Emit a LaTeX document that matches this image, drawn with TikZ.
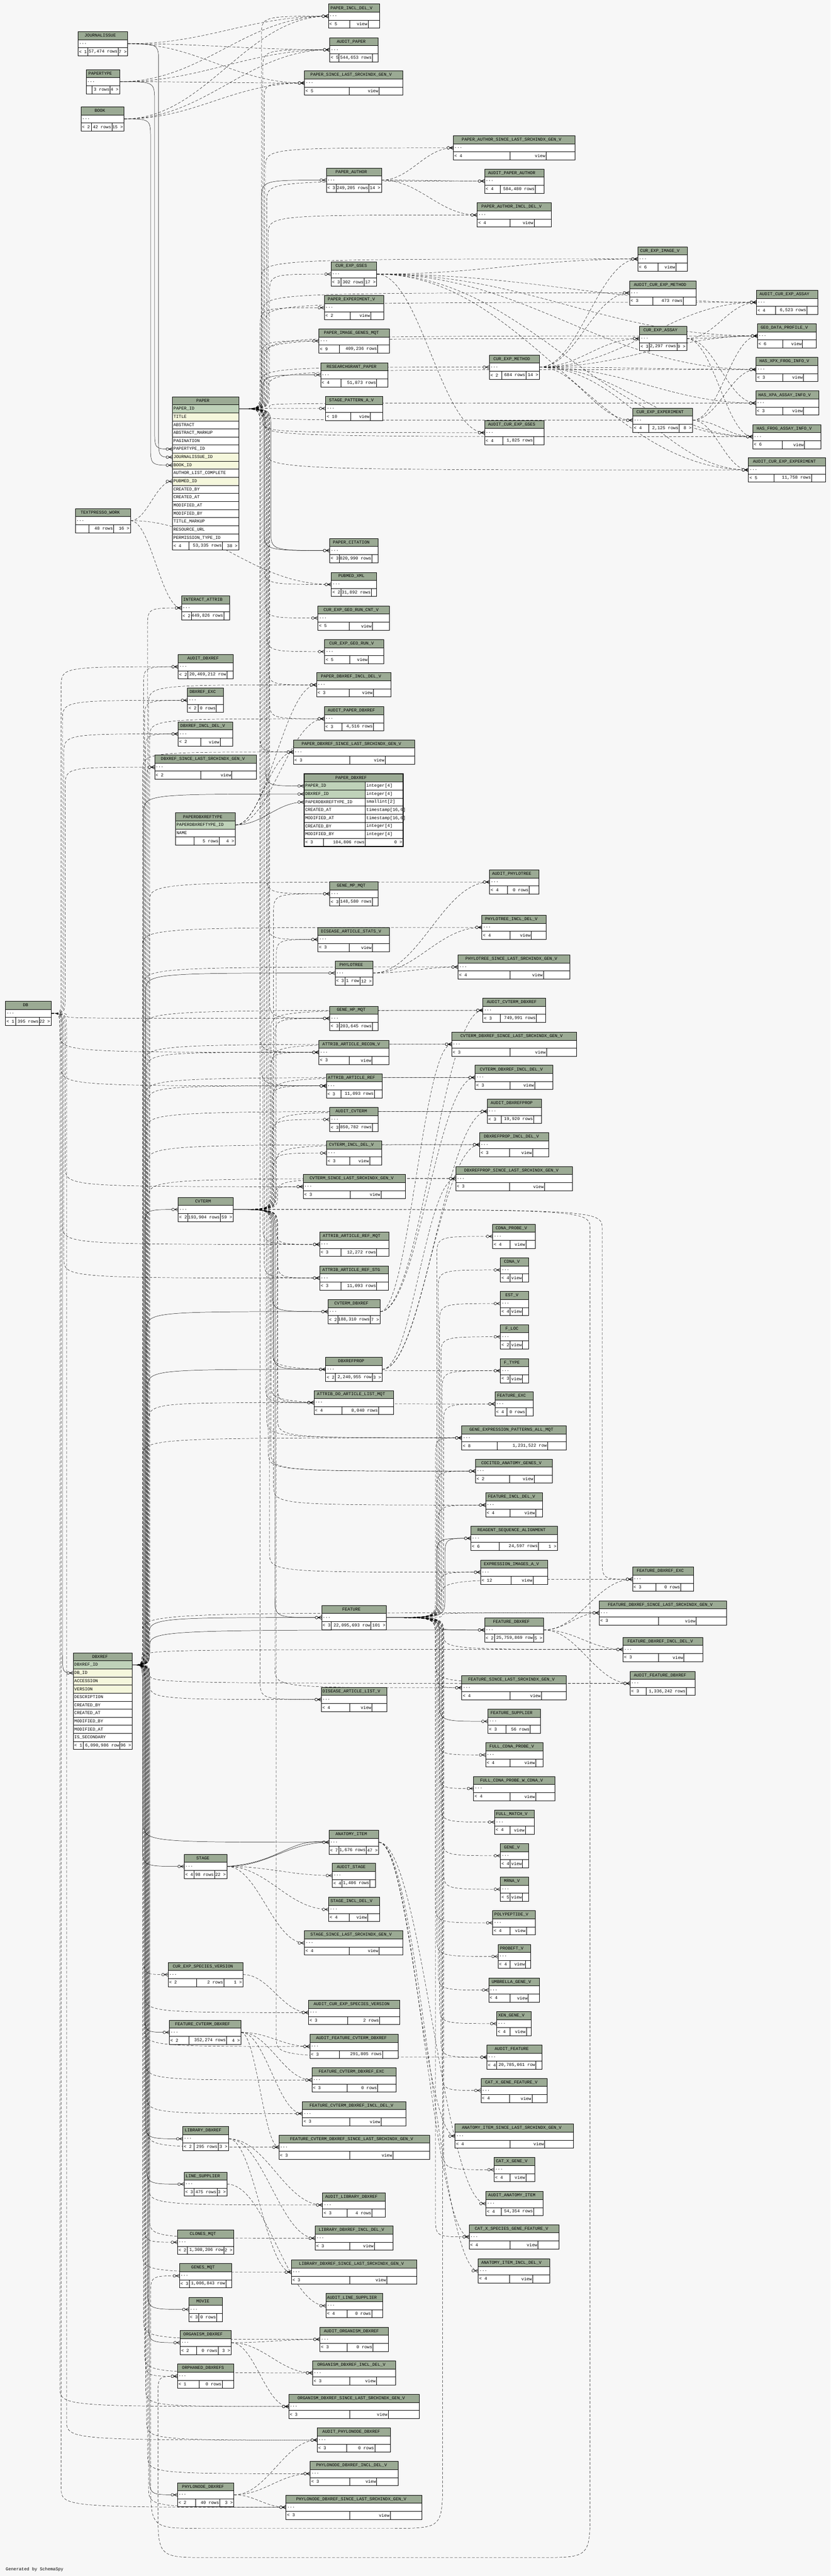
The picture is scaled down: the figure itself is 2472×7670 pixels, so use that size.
\documentclass[tikz,border=0pt]{standalone}
\usepackage{fontspec}
\newfontfamily\tfont{Liberation Mono}
\usetikzlibrary{calc}
\definecolor{bgc}{HTML}{F7F7F7}
\definecolor{hdr}{HTML}{9BAA94}
\definecolor{pkc}{HTML}{BFD2B9}
\definecolor{fkc}{HTML}{F5F7DC}
\pgfdeclarelayer{bglayer}
\pgfdeclarelayer{edgelayer}
\pgfsetlayers{bglayer,edgelayer,main}
\tikzset{
  txt/.style={font=\tfont\fontsize{13}{14}\selectfont,inner sep=1pt},
  tbl/.style={line width=1pt,draw=black},
  rown/.style={inner sep=0pt,minimum height=24pt,anchor=north west},
  edge/.style={line width=0.75pt,draw=black},
  dsh/.style={dash pattern=on 8pt off 5pt},
  sld/.style={solid},
  cfs/.style={line width=0.9pt,solid,draw=black}
}
\def\twosplit#1/#2\relax{\def\lw{#1}\def\mw{#2}}
\newcommand\crowf[1]{%
  \draw[cfs] ([xshift=-11pt]#1.west) -- ([yshift=5pt]#1.west) ([xshift=-11pt]#1.west) -- ([yshift=-5pt]#1.west) ([xshift=-11pt]#1.west) -- (#1.west);
  \filldraw[cfs,fill=bgc] ([xshift=-15pt]#1.west) circle[radius=4pt];}
\newcommand\edgeC[4]{%
  \draw[edge,#1] let \p1=(#2), \p2=(#4.west), \n1={min(abs(\y2-\y1)/2,60)}, \n2={(\y2>\y1)*2-1}, \n3={\y1+\n2*\n1}, \n4={\y2-\n2*\n1} in
    (\p1) .. controls (#3,\y1) .. (#3,\n3) -- (#3,\n4) .. controls (#3,\y2) .. (\p2);
  \crowf{#4}}
\newcommand\edgeS[3]{%
  \draw[edge,#1] let \p1=(#2), \p2=(#3.west), \n1={max(40,0.4*abs(\x2-\x1))} in
    (\p1) .. controls (\x1+\n1,\y1) and (\x2-\n1,\y2) .. (\p2);
  \crowf{#3}}
\newcommand\edgeL[6]{%
  \draw[edge,#1] let \p1=(#2), \p2=(#6.west) in
    (\p1) .. controls (#3,\y1) .. (#3,\y1-60) -- (#3,#4-150) .. controls (#3,#4) .. (#3-150,#4) -- (#5+150,#4) .. controls (#5,#4) .. (#5,#4-150) -- (#5,\y2-60) .. controls (#5,\y2) .. (\p2);
  \crowf{#6}}
\newcommand\tb[9]{%
  \twosplit#9\relax
  \pgfmathsetmacro\hw{#4-22}%
  \fill[white] (#2,#3) rectangle ++(#4,72);
  \fill[hdr] (#2,#3) rectangle ++(#4,24);
  \draw[tbl] (#2,#3) rectangle ++(#4,72) (#2,#3+24) -- ++(#4,0) (#2,#3+48) -- ++(#4,0)
    (#2+\lw,#3+48) -- ++(0,24) (#2+\lw+\mw,#3+48) -- ++(0,24);
  \node[txt,text width=\hw pt,align=center,anchor=west] at (#2+2,#3+12) {\mbox{#5}};
  \node[rown,minimum width=#4pt] (#1) at (#2,#3+24) {};
  \node[txt,anchor=west] at (#2+2,#3+36) {...};
  \node[txt,anchor=west] at (#2+2,#3+60) {#6};
  \node[txt,anchor=east] at (#2+\lw+\mw-1,#3+60) {#7};
  \node[txt,anchor=east] at (#2+#4-2,#3+60) {#8};}
\newcommand\prow[4]{%
  \fill[#4] (905,2304+24*#1) rectangle ++(182,24);
  \node[rown,minimum width=295pt] (pdbx-#1) at (905,2304+24*#1) {};
  \node[txt,anchor=west] at (907,2316+24*#1) {#2};
  \node[txt,anchor=west] at (1089,2316+24*#1) {#3};
  \draw[tbl] (905,2304+24*#1) -- ++(295,0);}
\begin{document}
\catcode`\_=12
\begin{tikzpicture}[x=1pt,y=-1pt]
\useasboundingbox (0,0) rectangle (2472,7670);
\begin{pgfonlayer}{bglayer}
\fill[bgc] (0,0) rectangle (2472,7670);
\end{pgfonlayer}

% ---------- expanded tables ----------
% PAPER
\fill[white] (513,1181) rectangle ++(197,456);
\fill[hdr] (513,1181) rectangle ++(197,24);
\node[txt,text width=175pt,align=center,anchor=west] at (515,1193) {PAPER};
\foreach \nm/\fc [count=\kk] in {PAPER_ID/pkc,TITLE/fkc,ABSTRACT/white,ABSTRACT_MARKUP/white,PAGINATION/white,PAPERTYPE_ID/white,JOURNALISSUE_ID/fkc,BOOK_ID/fkc,AUTHOR_LIST_COMPLETE/white,PUBMED_ID/fkc,CREATED_BY/white,CREATED_AT/white,MODIFIED_AT/white,MODIFIED_BY/white,TITLE_MARKUP/white,RESOURCE_URL/white,PERMISSION_TYPE_ID/white}{
  \fill[\fc] (513,1181+24*\kk) rectangle ++(197,24);
  \node[rown,minimum width=197pt] (paper-\kk) at (513,1181+24*\kk) {};
  \node[txt,anchor=west] at (515,1193+24*\kk) {\nm};
  \draw[tbl] (513,1181+24*\kk) -- ++(197,0);}
\draw[tbl] (513,1613) -- ++(197,0) (562,1613) -- ++(0,24) (662,1613) -- ++(0,24);
\node[txt,anchor=west] at (515,1625) {< 4};
\node[txt,anchor=east] at (661,1625) {53,335 rows};
\node[txt,anchor=east] at (708,1625) {38 >};
\draw[tbl] (513,1181) rectangle ++(197,456);

% DBXREF
\fill[white] (218,4921) rectangle ++(175,288);
\fill[hdr] (218,4921) rectangle ++(175,24);
\node[txt,text width=153pt,align=center,anchor=west] at (220,4933) {DBXREF};
\foreach \nm/\fc [count=\kk] in {DBXREF_ID/pkc,DB_ID/fkc,ACCESSION/fkc,VERSION/fkc,DESCRIPTION/white,CREATED_BY/white,CREATED_AT/white,MODIFIED_BY/white,MODIFIED_AT/white,IS_SECONDARY/white}{
  \fill[\fc] (218,4921+24*\kk) rectangle ++(175,24);
  \node[rown,minimum width=175pt] (dxref-\kk) at (218,4921+24*\kk) {};
  \node[txt,anchor=west] at (220,4933+24*\kk) {\nm};
  \draw[tbl] (218,4921+24*\kk) -- ++(175,0);}
\draw[tbl] (218,5185) -- ++(175,0) (248,5185) -- ++(0,24) (357,5185) -- ++(0,24);
\node[txt,anchor=west] at (220,5197) {< 1};
\node[txt,anchor=east] at (356,5197) {6,090,986 row};
\node[txt,anchor=east] at (391,5197) {96 >};
\draw[tbl] (218,4921) rectangle ++(175,288);

% PAPER_DBXREF
\fill[white] (905,2304) rectangle ++(295,216);
\fill[hdr] (905,2304) rectangle ++(295,24);
\node[txt,text width=273pt,align=center,anchor=west] at (907,2316) {PAPER_DBXREF};
\prow{1}{PAPER_ID}{integer[4]}{pkc}
\prow{2}{DBXREF_ID}{integer[4]}{pkc}
\prow{3}{PAPERDBXREFTYPE_ID}{smallint[2]}{white}
\prow{4}{CREATED_AT}{timestamp[16,6]}{white}
\prow{5}{MODIFIED_AT}{timestamp[16,6]}{white}
\prow{6}{CREATED_BY}{integer[4]}{white}
\prow{7}{MODIFIED_BY}{integer[4]}{white}
\draw[tbl] (1087,2328) -- (1087,2496) (905,2496) -- ++(295,0) (963,2496) -- ++(0,24) (1087,2496) -- ++(0,24);
\node[txt,anchor=west] at (907,2508) {< 3};
\node[txt,anchor=east] at (1086,2508) {104,806 rows};
\node[txt,anchor=east] at (1198,2508) {0 >};
\draw[line width=3pt] (905,2304) rectangle ++(295,216);

% PAPERDBXREFTYPE
\fill[white] (522,2420) rectangle ++(178,96);
\fill[hdr] (522,2420) rectangle ++(178,24);
\node[txt,text width=156pt,align=center,anchor=west] at (524,2432) {PAPERDBXREFTYPE};
\fill[pkc] (522,2444) rectangle ++(178,24);
\node[rown,minimum width=178pt] (pdxt-1) at (522,2444) {};
\node[txt,anchor=west] at (524,2456) {PAPERDBXREFTYPE_ID};
\node[txt,anchor=west] at (524,2480) {NAME};
\draw[tbl] (522,2444) -- ++(178,0) (522,2468) -- ++(178,0) (522,2492) -- ++(178,0) (578,2492) -- ++(0,24) (652,2492) -- ++(0,24);
\node[txt,anchor=east] at (651,2504) {5 rows};
\node[txt,anchor=east] at (698,2504) {4 >};
\draw[tbl] (522,2420) rectangle ++(178,96);

% ---------- collapsed tables ----------
\tb{pidv}{977}{12}{153}{PAPER_INCL_DEL_V}{< 5}{view}{}{64/54}
\tb{ji}{232}{94}{148}{JOURNALISSUE}{< 1}{57,474 rows}{7 >}{29/91}
\tb{ap}{981}{112}{144}{AUDIT_PAPER}{< 5}{544,653 rows}{}{28/99}
\tb{pt}{256}{207}{100}{PAPERTYPE}{}{3 rows}{4 >}{18/54}
\tb{pslv}{906}{211}{293}{PAPER_SINCE_LAST_SRCHINDX_GEN_V}{< 5}{view}{}{133/89}
\tb{book}{241}{318}{128}{BOOK}{< 2}{42 rows}{15 >}{31/61}
\tb{paslv}{1349}{404}{362}{PAPER_AUTHOR_SINCE_LAST_SRCHINDX_GEN_V}{< 4}{view}{}{168/108}
\tb{pa}{971}{500}{164}{PAPER_AUTHOR}{< 3}{249,205 rows}{14 >}{30/97}
\tb{apa}{1442}{503}{177}{AUDIT_PAPER_AUTHOR}{< 4}{584,480 rows}{}{46/105}
\tb{padv}{1420}{604}{220}{PAPER_AUTHOR_INCL_DEL_V}{< 4}{view}{}{97/72}
\tb{ceiv}{1898}{735}{147}{CUR_EXP_IMAGE_V}{< 6}{view}{}{60/53}
\tb{cegs}{985}{780}{136}{CUR_EXP_GSES}{< 3}{302 rows}{17 >}{30/69}
\tb{acem}{1873}{836}{198}{AUDIT_CUR_EXP_METHOD}{< 3}{473 rows}{}{70/90}
\tb{aceaa}{2251}{864}{182}{AUDIT_CUR_EXP_ASSAY}{< 4}{6,523 rows}{}{56/94}
\tb{pev}{965}{880}{177}{PAPER_EXPERIMENT_V}{< 2}{view}{}{77/61}
\tb{gdpv}{2254}{964}{175}{GEO_DATA_PROFILE_V}{< 6}{view}{}{75/59}
\tb{cea}{1903}{972}{140}{CUR_EXP_ASSAY}{< 3}{2,297 rows}{9 >}{29/82}
\tb{pigm}{949}{979}{209}{PAPER_IMAGE_GENES_MQT}{< 9}{409,236 rows}{}{61/114}
\tb{cem}{1456}{1057}{149}{CUR_EXP_METHOD}{< 2}{684 rows}{14 >}{37/72}
\tb{hxfv}{2250}{1064}{183}{HAS_XPX_FROG_INFO_V}{< 3}{view}{}{79/62}
\tb{rgp}{954}{1080}{200}{RESEARCHGRANT_PAPER}{< 4}{51,873 rows}{}{60/107}
\tb{hxav}{2249}{1164}{187}{HAS_XPA_ASSAY_INFO_V}{< 3}{view}{}{80/62}
\tb{spav}{969}{1180}{169}{STAGE_PATTERN_A_V}{< 10}{view}{}{74/59}
\tb{cee}{1883}{1215}{178}{CUR_EXP_EXPERIMENT}{< 4}{2,125 rows}{8 >}{48/90}
\tb{acegs}{1442}{1252}{177}{AUDIT_CUR_EXP_GSES}{< 4}{1,825 rows}{}{54/92}
\tb{hfav}{2240}{1264}{203}{HAS_FROG_ASSAY_INFO_V}{< 6}{view}{}{88/66}
\tb{acee}{2227}{1363}{230}{AUDIT_CUR_EXP_EXPERIMENT}{< 5}{11,758 rows}{}{76/112}
\tb{tw}{224}{1514}{164}{TEXTPRESSO_WORK}{}{48 rows}{16 >}{41/73}
\tb{pc}{981}{1603}{144}{PAPER_CITATION}{< 3}{820,990 rows}{}{29/97}
\tb{px}{986}{1704}{135}{PUBMED_XML}{< 2}{31,892 rows}{}{28/91}
\tb{ia}{540}{1774}{143}{INTERACT_ATTRIB}{< 2}{449,826 rows}{}{29/97}
\tb{cegrcv}{946}{1804}{213}{CUR_EXP_GEO_RUN_CNT_V}{< 5}{view}{}{93/69}
\tb{cegrv}{966}{1904}{176}{CUR_EXP_GEO_RUN_V}{< 5}{view}{}{75/55}
\tb{adx}{530}{1949}{164}{AUDIT_DBXREF}{< 2}{20,469,212 row}{}{29/116}
\tb{pdxdv}{942}{2003}{221}{PAPER_DBXREF_INCL_DEL_V}{< 3}{view}{}{97/72}
\tb{dxe}{558}{2049}{106}{DBXREF_EXC}{< 2}{0 rows}{}{31/55}
\tb{apdx}{965}{2104}{177}{AUDIT_PAPER_DBXREF}{< 3}{4,516 rows}{}{53/93}
\tb{dxdv}{530}{2149}{162}{DBXREF_INCL_DEL_V}{< 2}{view}{}{67/58}
\tb{pdxslv}{873}{2203}{361}{PAPER_DBXREF_SINCE_LAST_SRCHINDX_GEN_V}{< 3}{view}{}{168/105}
\tb{dxslv}{460}{2248}{303}{DBXREF_SINCE_LAST_SRCHINDX_GEN_V}{< 2}{view}{}{137/93}
\tb{gmm}{981}{2625}{144}{GENE_MP_MQT}{< 3}{148,580 rows}{}{29/98}
\tb{aphy}{1457}{2590}{147}{AUDIT_PHYLOTREE}{< 4}{0 rows}{}{53/65}
\tb{phydv}{1434}{2725}{191}{PHYLOTREE_INCL_DEL_V}{< 4}{view}{}{83/64}
\tb{dasv}{946}{2761}{213}{DISEASE_ARTICLE_STATS_V}{< 3}{view}{}{93/69}
\tb{physlv}{1363}{2843}{333}{PHYLOTREE_SINCE_LAST_SRCHINDX_GEN_V}{< 4}{view}{}{154/100}
\tb{phy}{997}{2861}{112}{PHYLOTREE}{< 3}{1 row}{12 >}{29/45}
\tb{acvdx}{1437}{2972}{187}{AUDIT_CVTERM_DBXREF}{< 3}{749,991 rows}{}{51/108}
\tb{db}{16}{2981}{136}{DB}{< 1}{395 rows}{22 >}{30/71}
\tb{ghm}{981}{2996}{144}{GENE_HP_MQT}{< 3}{203,645 rows}{}{29/98}
\tb{cvdxslv}{1344}{3073}{372}{CVTERM_DBXREF_SINCE_LAST_SRCHINDX_GEN_V}{< 3}{view}{}{173/109}
\tb{aarv}{949}{3097}{208}{ATTRIB_ARTICLE_RECON_V}{< 3}{view}{}{90/68}
\tb{cvdxdv}{1414}{3172}{231}{CVTERM_DBXREF_INCL_DEL_V}{< 3}{view}{}{103/74}
\tb{aar}{971}{3197}{166}{ATTRIB_ARTICLE_REF}{< 3}{11,093 rows}{}{44/99}
\tb{adxp}{1450}{3273}{161}{AUDIT_DBXREFPROP}{< 3}{19,920 rows}{}{42/96}
\tb{acv}{981}{3297}{144}{AUDIT_CVTERM}{< 3}{850,782 rows}{}{29/98}
\tb{dxpdv}{1427}{3372}{205}{DBXREFPROP_INCL_DEL_V}{< 3}{view}{}{89/69}
\tb{cvdv}{972}{3397}{163}{CVTERM_INCL_DEL_V}{< 3}{view}{}{69/59}
\tb{dxpslv}{1356}{3473}{347}{DBXREFPROP_SINCE_LAST_SRCHINDX_GEN_V}{< 3}{view}{}{160/104}
\tb{cvslv}{902}{3497}{304}{CVTERM_SINCE_LAST_SRCHINDX_GEN_V}{< 3}{view}{}{140/92}
\tb{cv}{530}{3565}{164}{CVTERM}{< 2}{193,904 rows}{59 >}{29/97}
\tb{cdpv}{1466}{3645}{127}{CDNA_PROBE_V}{< 4}{view}{}{51/48}
\tb{aarm}{951}{3669}{206}{ATTRIB_ARTICLE_REF_MQT}{< 3}{12,272 rows}{}{63/107}
\tb{cdv}{1489}{3745}{84}{CDNA_V}{< 4}{view}{}{29/37}
\tb{aars}{951}{3769}{204}{ATTRIB_ARTICLE_REF_STG}{< 3}{11,093 rows}{}{63/107}
\tb{estv}{1489}{3845}{84}{EST_V}{< 4}{view}{}{29/37}
\tb{cvdx}{976}{3869}{155}{CVTERM_DBXREF}{< 2}{188,310 rows}{7 >}{30/96}
\tb{floc}{1489}{3944}{84}{F_LOC}{< 2}{view}{}{29/37}
\tb{dxp}{969}{4041}{168}{DBXREFPROP}{< 2}{2,240,955 row}{3 >}{29/110}
\tb{ftype}{1489}{4045}{84}{F_TYPE}{< 3}{view}{}{29/37}
\tb{adalm}{934}{4140}{237}{ATTRIB_DO_ARTICLE_LIST_MQT}{< 4}{8,040 rows}{}{84/108}
\tb{fexc}{1473}{4144}{114}{FEATURE_EXC}{< 4}{0 rows}{}{35/57}
\tb{gepam}{1374}{4245}{311}{GENE_EXPRESSION_PATTERNS_ALL_MQT}{< 8}{1,231,522 row}{}{106/149}
\tb{cagv}{1415}{4344}{229}{COCITED_ANATOMY_GENES_V}{< 2}{view}{}{101/73}
\tb{fdv}{1445}{4445}{170}{FEATURE_INCL_DEL_V}{< 4}{view}{}{72/77}
\tb{rsa}{1401}{4544}{258}{REAGENT_SEQUENCE_ALIGNMENT}{< 6}{24,597 rows}{1 >}{84/117}
\tb{eiav}{1430}{4645}{199}{EXPRESSION_IMAGES_A_V}{< 12}{view}{}{91/65}
\tb{fdxe}{1882}{4666}{181}{FEATURE_DBXREF_EXC}{< 3}{0 rows}{}{69/75}
\tb{fdxslv}{1783}{4766}{379}{FEATURE_DBXREF_SINCE_LAST_SRCHINDX_GEN_V}{< 3}{view}{}{177/112}
\tb{feat}{957}{4780}{193}{FEATURE}{< 3}{22,095,693 row}{101 >}{29/118}
\tb{fdx}{1442}{4817}{175}{FEATURE_DBXREF}{< 2}{25,759,869 row}{5 >}{29/117}
\tb{fdxdv}{1854}{4875}{237}{FEATURE_DBXREF_INCL_DEL_V}{< 3}{view}{}{106/75}
\tb{afdx}{1875}{4976}{194}{AUDIT_FEATURE_DBXREF}{< 3}{1,336,242 rows}{}{48/119}
\tb{fslv}{1374}{4989}{311}{FEATURE_SINCE_LAST_SRCHINDX_GEN_V}{< 4}{view}{}{143/94}
\tb{dalv}{956}{5024}{195}{DISEASE_ARTICLE_LIST_V}{< 4}{view}{}{85/66}
\tb{fsup}{1452}{5089}{156}{FEATURE_SUPPLIER}{< 3}{56 rows}{}{53/73}
\tb{fcpv}{1445}{5189}{171}{FULL_CDNA_PROBE_V}{< 4}{view}{}{72/77}
\tb{fcpwcv}{1409}{5289}{242}{FULL_CDNA_PROBE_W_CDNA_V}{< 4}{view}{}{108/77}
\tb{fmv}{1472}{5389}{117}{FULL_MATCH_V}{< 4}{view}{}{45/46}
\tb{ai}{979}{5449}{148}{ANATOMY_ITEM}{< 7}{1,676 rows}{47 >}{30/81}
\tb{genev}{1489}{5489}{84}{GENE_V}{< 4}{view}{}{29/37}
\tb{stage}{548}{5521}{127}{STAGE}{< 4}{98 rows}{22 >}{29/61}
\tb{astage}{989}{5548}{128}{AUDIT_STAGE}{< 4}{1,406 rows}{}{29/83}
\tb{mrnav}{1489}{5589}{84}{MRNA_V}{< 5}{view}{}{29/37}
\tb{stdv}{978}{5649}{151}{STAGE_INCL_DEL_V}{< 4}{view}{}{61/55}
\tb{ppv}{1466}{5689}{127}{POLYPEPTIDE_V}{< 4}{view}{}{51/49}
\tb{stslv}{906}{5749}{293}{STAGE_SINCE_LAST_SRCHINDX_GEN_V}{< 4}{view}{}{133/89}
\tb{pbv}{1482}{5789}{97}{PROBEFT_V}{< 4}{view}{}{36/46}
\tb{cesv}{500}{5843}{223}{CUR_EXP_SPECIES_VERSION}{< 2}{2 rows}{1 >}{85/81}
\tb{ugv}{1454}{5889}{151}{UMBRELLA_GENE_V}{< 4}{view}{}{63/55}
\tb{acesv}{918}{5956}{272}{AUDIT_CUR_EXP_SPECIES_VERSION}{< 3}{2 rows}{}{116/96}
\tb{xgv}{1478}{5989}{103}{XEN_GENE_V}{< 4}{view}{}{39/49}
\tb{fcdx}{504}{6015}{213}{FEATURE_CVTERM_DBXREF}{< 2}{352,274 rows}{4 >}{58/112}
\tb{afcdx}{922}{6057}{263}{AUDIT_FEATURE_CVTERM_DBXREF}{< 3}{291,805 rows}{}{88/128}
\tb{af}{1449}{6089}{163}{AUDIT_FEATURE}{< 4}{20,785,061 row}{}{29/117}
\tb{fcdxe}{928}{6157}{251}{FEATURE_CVTERM_DBXREF_EXC}{< 3}{0 rows}{}{105/91}
\tb{cxgfv}{1431}{6188}{197}{CAT_X_GENE_FEATURE_V}{< 4}{view}{}{85/67}
\tb{fcdxdv}{900}{6257}{307}{FEATURE_CVTERM_DBXREF_INCL_DEL_V}{< 3}{view}{}{141/93}
\tb{aislv}{1354}{6324}{353}{ANATOMY_ITEM_SINCE_LAST_SRCHINDX_GEN_V}{< 4}{view}{}{163/104}
\tb{ldx}{544}{6332}{136}{LIBRARY_DBXREF}{< 2}{295 rows}{3 >}{33/72}
\tb{fcdxslv}{830}{6357}{448}{FEATURE_CVTERM_DBXREF_SINCE_LAST_SRCHINDX_GEN_V}{< 3}{view}{}{211/128}
\tb{cxgv}{1470}{6424}{121}{CAT_X_GENE_V}{< 4}{view}{}{48/47}
\tb{lsup}{548}{6467}{127}{LINE_SUPPLIER}{< 3}{475 rows}{3 >}{29/69}
\tb{aai}{1446}{6525}{170}{AUDIT_ANATOMY_ITEM}{< 4}{54,354 rows}{}{46/96}
\tb{aldx}{960}{6529}{187}{AUDIT_LIBRARY_DBXREF}{< 3}{4 rows}{}{73/74}
\tb{cxsgfv}{1396}{6624}{268}{CAT_X_SPECIES_GENE_FEATURE_V}{< 4}{view}{}{121/84}
\tb{ldxdv}{938}{6628}{231}{LIBRARY_DBXREF_INCL_DEL_V}{< 3}{view}{}{102/74}
\tb{cmqt}{528}{6640}{167}{CLONES_MQT}{< 2}{1,308,206 row}{2 >}{29/110}
\tb{aidv}{1423}{6725}{213}{ANATOMY_ITEM_INCL_DEL_V}{< 4}{view}{}{93/69}
\tb{ldxslv}{867}{6729}{373}{LIBRARY_DBXREF_SINCE_LAST_SRCHINDX_GEN_V}{< 3}{view}{}{173/111}
\tb{gmqt}{534}{6740}{156}{GENES_MQT}{< 3}{1,006,843 row}{}{29/109}
\tb{alsup}{970}{6829}{168}{AUDIT_LINE_SUPPLIER}{< 4}{0 rows}{}{63/73}
\tb{movie}{562}{6840}{99}{MOVIE}{< 3}{0 rows}{}{29/54}
\tb{aodx}{952}{6929}{203}{AUDIT_ORGANISM_DBXREF}{< 3}{0 rows}{}{81/77}
\tb{odx}{536}{6939}{152}{ORGANISM_DBXREF}{< 2}{0 rows}{3 >}{49/64}
\tb{odxdv}{930}{7029}{247}{ORGANISM_DBXREF_INCL_DEL_V}{< 3}{view}{}{110/80}
\tb{ordx}{528}{7039}{168}{ORPHANED_DBXREFS}{< 1}{0 rows}{}{64/69}
\tb{odxslv}{859}{7129}{388}{ORGANISM_DBXREF_SINCE_LAST_SRCHINDX_GEN_V}{< 3}{view}{}{181/115}
\tb{apndx}{944}{7229}{218}{AUDIT_PHYLONODE_DBXREF}{< 3}{0 rows}{}{88/83}
\tb{pndxdv}{923}{7329}{262}{PHYLONODE_DBXREF_INCL_DEL_V}{< 3}{view}{}{118/80}
\tb{pndx}{528}{7392}{168}{PHYLONODE_DBXREF}{< 2}{40 rows}{3 >}{54/72}
\tb{pndxslv}{851}{7429}{404}{PHYLONODE_DBXREF_SINCE_LAST_SRCHINDX_GEN_V}{< 3}{view}{}{190/120}

\node[txt,anchor=west] at (16,7651) {Generated by SchemaSpy};

% ---------- connectors ----------
\begin{pgfonlayer}{edgelayer}
% PAPER
\foreach \cc [count=\ii] in {pa,rgp,pc,pdbx-1}{\pgfmathsetmacro\chx{774+mod(\ii,8)*4}\edgeC{sld}{paper-1.east}{\chx}{\cc}}
\edgeC{sld}{paper-1.east}{806}{pc}
\foreach \cc [count=\ii] in {pidv,ap,pslv,paslv,apa,padv,cegs,pev,pigm,spav,px,cegrcv,cegrv,pdxdv,apdx,pdxslv,ceiv,acem,cea,aceaa,gdpv,hxfv,hxav,cem,cee,acegs,hfav,acee,gmm,dasv,ghm,aarv,aar,aarm,aars,adalm,gepam,cagv,eiav,dalv}{\pgfmathsetmacro\chx{774+mod(\ii,8)*4}\edgeC{dsh}{paper-1.east}{\chx}{\cc}}
% into PAPER
\edgeC{sld}{ji.east}{472}{paper-7}
\edgeC{sld}{pt.east}{460}{paper-6}
\edgeC{sld}{book.east}{448}{paper-8}
\edgeS{dsh}{tw.east}{paper-10}
% DBXREF
\foreach \cc [count=\ii] in {pdbx-2,cv,phy,cvdx,dxp,feat,fdx,stage,ai,fcdx,ldx,lsup,movie,odx,pndx}{\pgfmathsetmacro\chx{424+mod(\ii,8)*3}\edgeC{sld}{dxref-1.east}{\chx}{\cc}}
\foreach \cc [count=\ii] in {adx,dxe,dxdv,dxslv,ia,pdxdv,apdx,pdxslv,cesv,cmqt,ordx,aarv,aar,adalm,dalv,gepam,acvdx,cvdxslv,cvdxdv,adxp,dxpdv,dxpslv,afdx,fdxslv,fdxdv,afcdx,fcdxe,fcdxdv,fcdxslv,aldx,ldxdv,ldxslv,aodx,odxdv,odxslv,apndx,pndxdv,pndxslv,aphy,phydv,physlv,acesv}{\pgfmathsetmacro\chx{424+mod(\ii,8)*3}\edgeC{dsh}{dxref-1.east}{\chx}{\cc}}
% DB
\edgeC{sld}{db.east}{186}{dxref-2}
\foreach \cc [count=\ii] in {adx,dxe,dxdv,dxslv,ghm,aarv,aar,aarm,aars,cvslv,apndx,odxslv,pndxslv}{\pgfmathsetmacro\chx{178+mod(\ii,6)*4}\edgeC{dsh}{db.east}{\chx}{\cc}}
% CVTERM
\foreach \cc [count=\ii] in {cvdx,dxp,feat}{\pgfmathsetmacro\chx{806+mod(\ii,6)*4}\edgeC{sld}{cv.east}{\chx}{\cc}}
\foreach \cc [count=\ii] in {acv,cvdv,cvslv,aarm,aars,aarv,aar,gmm,ghm,dasv,adalm,acvdx,cvdxslv,cvdxdv,adxp,dxpdv,dxpslv,fexc,ftype,fdv,fslv,af,gepam,cagv}{\pgfmathsetmacro\chx{806+mod(\ii,6)*4}\edgeC{dsh}{cv.east}{\chx}{\cc}}
\edgeC{dsh}{cv.east}{1792}{fdxe}
\edgeL{dsh}{cv.east}{1756}{7615}{470}{ordx}
% FEATURE
\foreach \cc [count=\ii] in {rsa,fdx,fsup}{\pgfmathsetmacro\chx{1296+mod(\ii,7)*4}\edgeC{sld}{feat.east}{\chx}{\cc}}
\edgeC{sld}{feat.east}{1324}{rsa}
\foreach \cc [count=\ii] in {cdpv,cdv,estv,floc,ftype,fexc,gepam,cagv,fdv,eiav,fdxe,fdxslv,fdxdv,afdx,fslv,fcpv,fcpwcv,fmv,genev,mrnav,ppv,pbv,ugv,xgv,af,cxgfv,cxgv,cxsgfv}{\pgfmathsetmacro\chx{1296+mod(\ii,7)*4}\edgeC{dsh}{feat.east}{\chx}{\cc}}
\edgeL{dsh}{feat.east}{1317}{7528}{448}{gmqt}
% short S-curves
\edgeS{sld}{pdxt-1.east}{pdbx-3}
\edgeS{sld}{stage.east}{ai}
\draw[edge] (stage.east) .. controls (840,5545) and (860,5470) .. (ai.west);
\foreach \pp/\cc in {ji/pidv,ji/ap,ji/pslv,pt/pidv,pt/ap,pt/pslv,book/pidv,book/ap,book/pslv,tw/px,tw/ia,pa/paslv,pa/apa,pa/padv,cegs/ceiv,cegs/aceaa,cegs/gdpv,cegs/hxfv,cegs/acegs,cegs/acee,cegs/hfav,cem/ceiv,cem/acem,cem/cea,cem/aceaa,cem/gdpv,cem/hxfv,cem/hxav,cem/cee,cem/hfav,cem/acee,cea/aceaa,cea/gdpv,cea/hxav,cea/hfav,cee/gdpv,cee/hxfv,cee/hfav,cee/acee,pdxt-1/pdxdv,pdxt-1/apdx,pdxt-1/pdxslv,phy/aphy,phy/phydv,phy/physlv,cvdx/acvdx,cvdx/cvdxslv,cvdx/cvdxdv,dxp/adxp,dxp/dxpdv,dxp/dxpslv,fdx/fdxe,fdx/fdxslv,fdx/fdxdv,fdx/afdx,stage/astage,stage/stdv,stage/stslv,ai/aislv,ai/aai,ai/aidv,ai/cxsgfv,cesv/acesv,fcdx/afcdx,fcdx/fcdxe,fcdx/fcdxdv,fcdx/fcdxslv,ldx/aldx,ldx/ldxdv,ldx/ldxslv,lsup/alsup,odx/aodx,odx/odxdv,odx/odxslv,pndx/apndx,pndx/pndxdv,pndx/pndxslv}{\edgeS{dsh}{\pp.east}{\cc}}
\end{pgfonlayer}
\end{tikzpicture}
\end{document}
